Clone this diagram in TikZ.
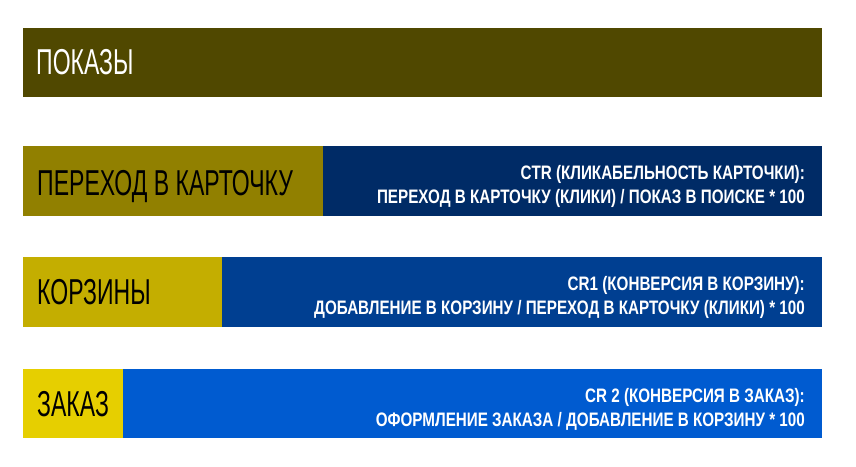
\documentclass[tikz,border=0pt]{standalone}
\usepackage{fontspec}
\newfontfamily\stagefont[FakeStretch=0.64]{Liberation Sans}
\newfontfamily\ratefont[FakeStretch=0.78]{Liberation Sans}
\definecolor{showcol}{HTML}{504800}
\definecolor{clickcol}{HTML}{918000}
\definecolor{cartcol}{HTML}{C4AE00}
\definecolor{ordercol}{HTML}{E6CF00}
\definecolor{ctrcol}{HTML}{002B66}
\definecolor{cronecol}{HTML}{003F91}
\definecolor{crtwocol}{HTML}{005BD0}
\tikzset{
  stage/.style={anchor=base west, inner sep=0pt, font=\stagefont\fontsize{36}{36}\selectfont},
  rate/.style={anchor=base east, inner sep=0pt, text=white, font=\ratefont\bfseries\fontsize{19.5}{19.5}\selectfont}
}

\begin{document}
\begin{tikzpicture}[x=1pt, y=-1pt]
		%%%%% START %%%%%
		\useasboundingbox (0, 0) rectangle (856, 466);
		
		\fill[showcol] (23, 28) rectangle (822, 97);
		\node[stage, text=white] (shows) at (36, 74) {ПОКАЗЫ};
		
		\fill[clickcol] (23, 146) rectangle (323, 216);
		\fill[ctrcol] (323, 146) rectangle (822, 216);
		\node[stage] (clicks) at (37, 195) {ПЕРЕХОД В КАРТОЧКУ};
		\node[rate] (ctrtop) at (805, 179) {CTR (КЛИКАБЕЛЬНОСТЬ КАРТОЧКИ):};
		\node[rate] (ctrbot) at (805, 203) {ПЕРЕХОД В КАРТОЧКУ (КЛИКИ) / ПОКАЗ В ПОИСКЕ * 100};
		
		\fill[cartcol] (23, 257) rectangle (222, 327);
		\fill[cronecol] (222, 257) rectangle (822, 327);
		\node[stage] (carts) at (37, 304) {КОРЗИНЫ};
		\node[rate] (cronetop) at (805, 290) {CR1 (КОНВЕРСИЯ В КОРЗИНУ):};
		\node[rate] (cronebot) at (805, 314) {ДОБАВЛЕНИЕ В КОРЗИНУ / ПЕРЕХОД В КАРТОЧКУ (КЛИКИ) * 100};
		
		\fill[ordercol] (23, 369) rectangle (123, 438);
		\fill[crtwocol] (123, 369) rectangle (822, 438);
		\node[stage] (orders) at (37, 416) {ЗАКАЗ};
		\node[rate] (crtwotop) at (805, 402) {CR 2 (КОНВЕРСИЯ В ЗАКАЗ):};
		\node[rate] (crtwobot) at (805, 426) {ОФОРМЛЕНИЕ ЗАКАЗА / ДОБАВЛЕНИЕ В КОРЗИНУ * 100};
		
		%%%%% END %%%%%
\end{tikzpicture}
\end{document}
